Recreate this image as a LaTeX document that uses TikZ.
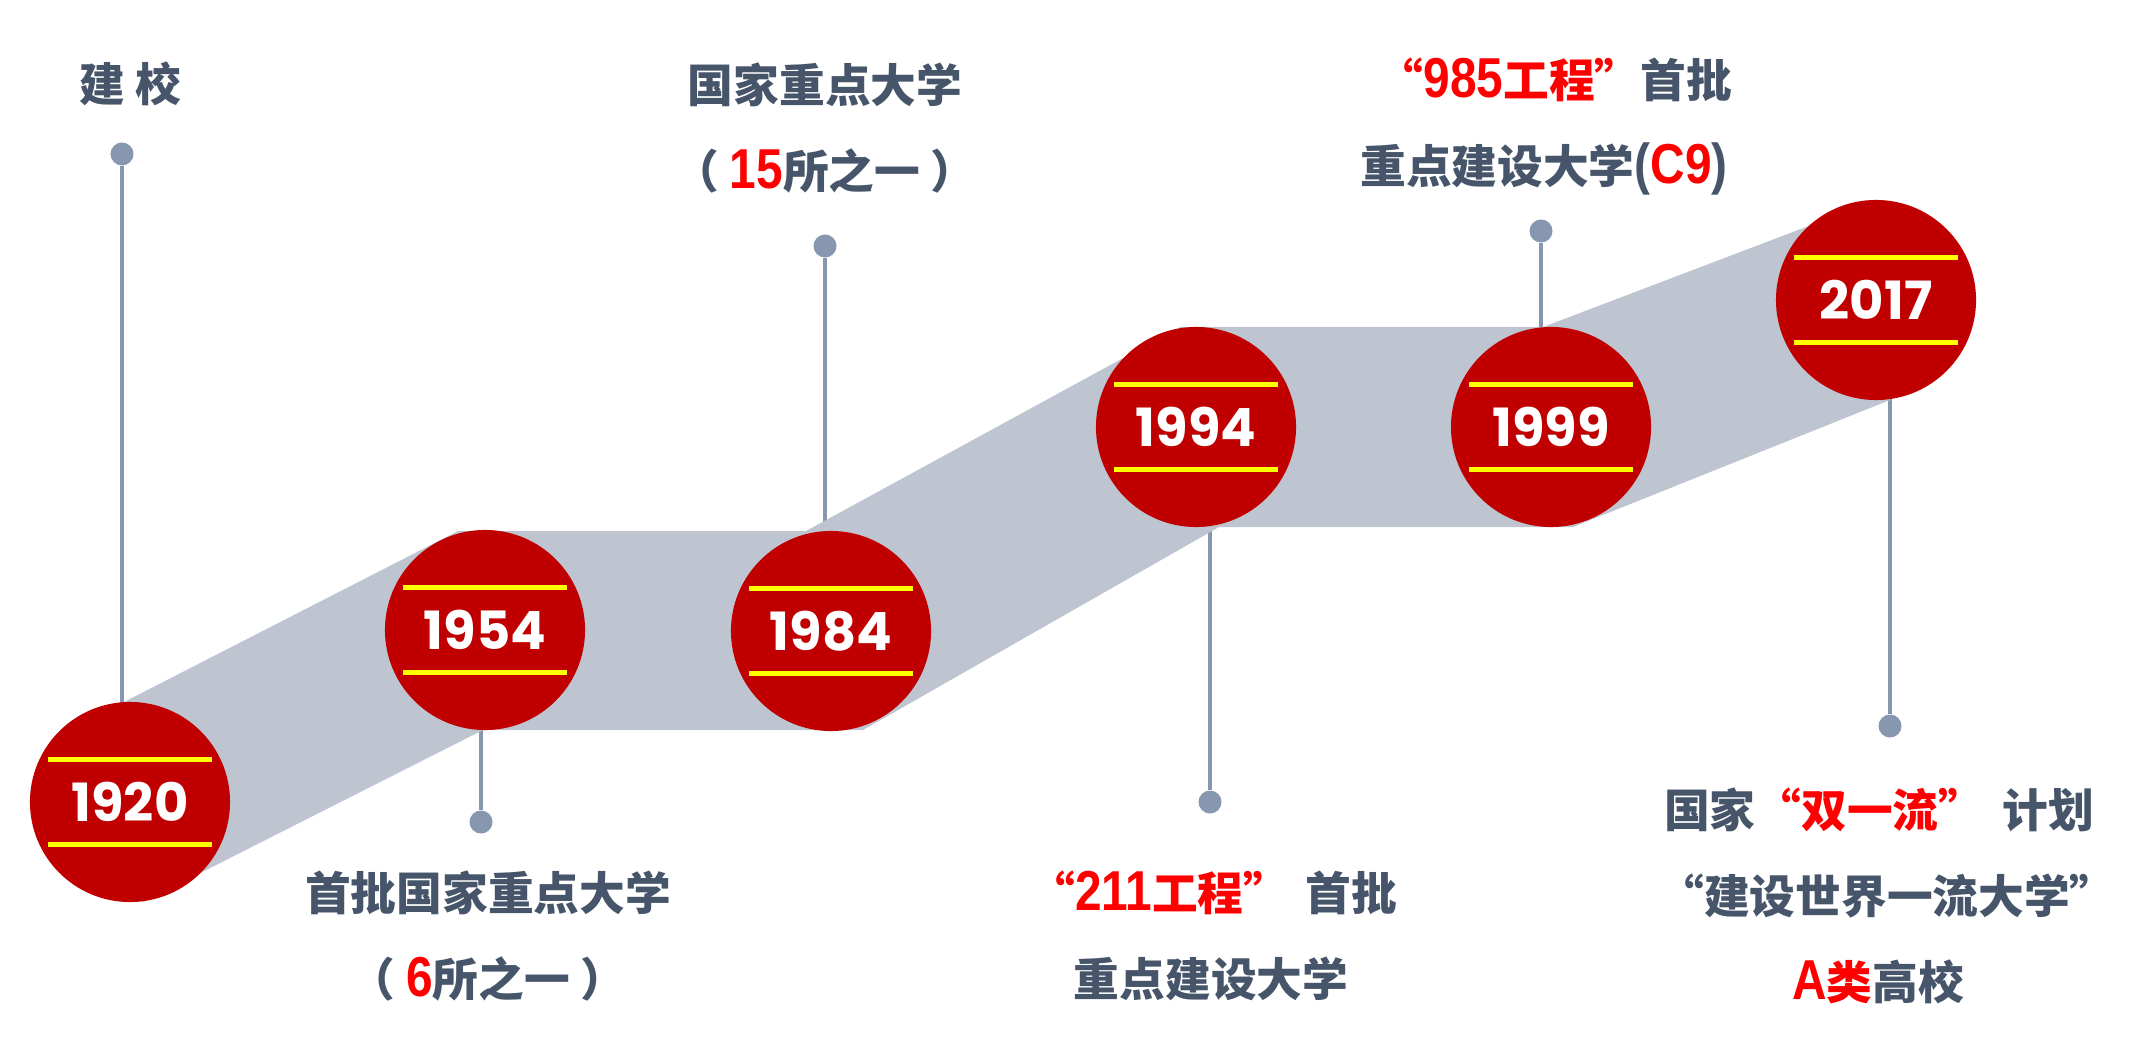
\documentclass[tikz,border=0pt]{standalone}
\usepackage{fontspec}
\usepackage{xcolor}
\usepackage{tikz}
\usetikzlibrary{positioning}
\newfontfamily\cjk{Noto Sans CJK SC}
\newfontfamily\latin{Liberation Sans}[FakeStretch=0.85]
\newfontfamily\yearfont{Poppins}
\definecolor{ballred}{HTML}{C00000}
\definecolor{barylw}{HTML}{FFFF00}
\definecolor{bandgray}{HTML}{BEC5D0}
\definecolor{stemblue}{HTML}{8797B0}
\definecolor{inkslate}{HTML}{465569}
\definecolor{hotred}{HTML}{FF0000}
\newcommand{\hot}[1]{\textcolor{hotred}{#1}}
\newcommand{\lat}[1]{{\latin\bfseries\fontsize{16}{15}\selectfont #1}}
\pgfdeclarelayer{under}
\pgfdeclarelayer{ribbon}
\pgfsetlayers{under,ribbon,main}
\tikzset{
  yball/.style={circle,fill=ballred,minimum size=2cm,inner sep=0pt,
                text=white,font=\yearfont\bfseries\fontsize{15}{17}\selectfont,
                path picture={
                  \fill[barylw] ([shift={(-0.815cm,0.395cm)}]path picture bounding box.center)
                    rectangle ++(1.63cm,0.05cm);
                  \fill[barylw] ([shift={(-0.815cm,-0.445cm)}]path picture bounding box.center)
                    rectangle ++(1.63cm,0.05cm);
                }},
  tipdot/.style={circle,fill=stemblue,minimum size=0.23cm,inner sep=0pt},
  stemline/.style={line width=0.9pt,draw=stemblue},
}

\begin{document}
\begin{tikzpicture}[
  x=0.01cm,y=-0.01cm,
  lbl/.style={inner sep=0pt,text=inkslate,text height=0.42cm,text depth=0.08cm,
              font=\cjk\bfseries\fontsize{13}{15}\selectfont},
  nextline/.style={lbl,below=0.35cm of #1}
]
  \useasboundingbox (0,0) rectangle (2131,1058);

  \node[yball] (Y20) at (130,802) {1920};
  \node[yball] (Y54) at (485,630) {1954};
  \node[yball] (Y84) at (831,631) {1984};
  \node[yball] (Y94) at (1196,427) {1994};
  \node[yball] (Y99) at (1551,427) {1999};
  \node[yball] (Y17) at (1876,300) {2017};

  \node[tipdot] (D20) at (122,154) {};
  \node[tipdot] (D54) at (481,822) {};
  \node[tipdot] (D84) at (825,246) {};
  \node[tipdot] (D94) at (1210,802) {};
  \node[tipdot] (D99) at (1541,231) {};
  \node[tipdot] (D17) at (1890,726) {};

  \begin{pgfonlayer}{ribbon}
    \fill[bandgray] (124,702) -- (458,531) -- (806,531) -- (1180,327) -- (1543,327)
      -- (1877,200) -- (1890,400) -- (1573,527) -- (1219,527) -- (863,730)
      -- (483,730) -- (143,902) -- cycle;
  \end{pgfonlayer}
  \begin{pgfonlayer}{under}
    \draw[stemline] (D20) -- (D20 |- Y20);
    \draw[stemline] (D54) -- (D54 |- Y54);
    \draw[stemline] (D84) -- (D84 |- Y84);
    \draw[stemline] (D94) -- (D94 |- Y94);
    \draw[stemline] (D99) -- (D99 |- Y99);
    \draw[stemline] (D17) -- (D17 |- Y17);
  \end{pgfonlayer}

  \node[lbl] (T20) at (130,84) {建 校};

  \node[lbl] (T54a) at (488,893) {首批国家重点大学};
  \node[nextline=T54a] (T54b) {（ \hot{\lat{6}}所之一 ）};

  \node[lbl] (T84a) at (825,85) {国家重点大学};
  \node[nextline=T84a] (T84b) {（ \hot{\lat{15}}所之一 ）};

  \node[lbl] (T94a) at (1213,893) {\hot{“\lat{211}工程”}\hspace{0.35em}首批};
  \node[nextline=T94a,xshift=-0.02cm] (T94b) {重点建设大学};

  \node[lbl] (T99a) at (1555,80) {\hot{“\lat{985}工程”}首批};
  \node[nextline=T99a,xshift=-0.11cm] (T99b) {重点建设大学\lat{(}\hot{\lat{C9}}\lat{)}};

  \node[lbl] (T17a) at (1879,810) {国家\hot{“双一流”}\hspace{0.4em}计划};
  \node[nextline=T17a,xshift=0.08cm] (T17b) {“建设世界一流大学”};
  \node[nextline=T17b,xshift=-0.09cm] (T17c) {\hot{\lat{A}类}高校};
\end{tikzpicture}
\end{document}
